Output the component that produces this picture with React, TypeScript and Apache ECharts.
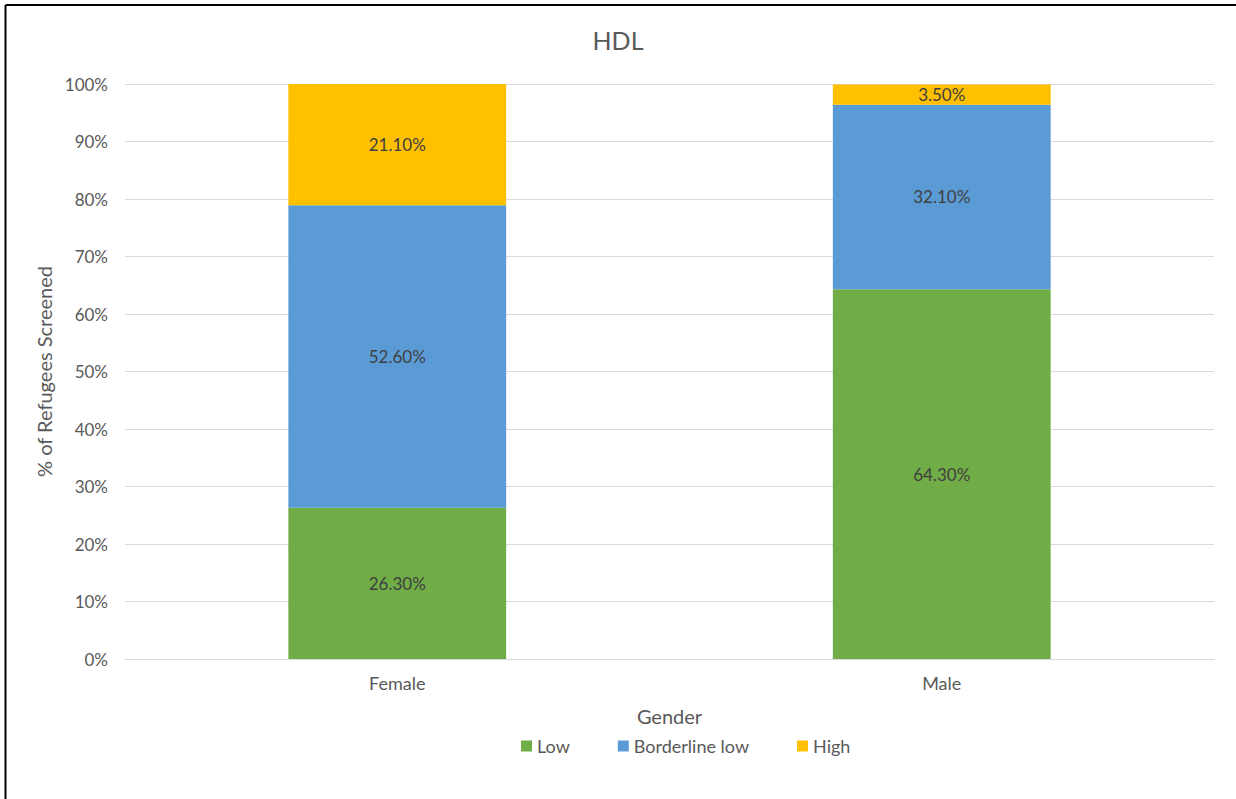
import React, { useEffect, useRef } from "react";
import * as echarts from "echarts";

const categories = ["Female", "Male"];
const lowValues = [26.3, 64.3];
const borderlineValues = [52.6, 32.1];
const highValues = [21.1, 3.5];
const seriesNames = ["Low", "Borderline low", "High"];
const colors = ["#70AD47", "#5B9BD5", "#FFC000"];

const FONT = "Lato, 'Open Sans', sans-serif";

export default function App() {
  const ref = useRef<HTMLDivElement>(null);
  useEffect(() => {
    if (!ref.current) return;
    const chart = echarts.init(ref.current, undefined, { renderer: "svg" });
    const dataSets = [lowValues, borderlineValues, highValues];
    chart.setOption({
      animation: false,
      backgroundColor: "#ffffff",
      textStyle: { fontFamily: FONT },
      title: {
        text: "HDL",
        left: "center",
        top: 22,
        textStyle: { fontFamily: FONT, fontSize: 25, fontWeight: "normal", color: "#595959" },
      },
      legend: {
        data: seriesNames,
        left: 516,
        top: 732,
        itemWidth: 11,
        itemHeight: 11,
        itemGap: 48,
        icon: "rect",
        textStyle: { fontFamily: FONT, fontSize: 18, color: "#595959" },
      },
      grid: { left: 125, right: 22, top: 84, bottom: 140, containLabel: false },
      xAxis: {
        type: "category",
        data: categories,
        name: "Gender",
        nameLocation: "middle",
        nameGap: 47,
        nameTextStyle: { fontFamily: FONT, fontSize: 20, color: "#595959" },
        axisLine: { show: true, lineStyle: { color: "#d9d9d9", width: 1 } },
        axisTick: { show: false },
        axisLabel: { margin: 15, fontFamily: FONT, fontSize: 18, color: "#595959" },
      },
      yAxis: {
        type: "value",
        min: 0,
        max: 100,
        interval: 10,
        name: "% of Refugees Screened",
        nameLocation: "middle",
        nameRotate: 90,
        nameGap: 69,
        nameTextStyle: { fontFamily: FONT, fontSize: 20, color: "#595959" },
        axisLine: { show: false },
        axisTick: { show: false },
        axisLabel: {
          margin: 17,
          fontFamily: FONT,
          fontSize: 17,
          color: "#595959",
          formatter: (v: number) => `${v}%`,
        },
        splitLine: { lineStyle: { color: "#d9d9d9", width: 1 } },
      },
      series: seriesNames.map((name, i) => ({
        name,
        type: "bar",
        stack: "total",
        barWidth: "40%",
        data: dataSets[i],
        itemStyle: { color: colors[i] },
        label: {
          show: true,
          position: "inside",
          fontFamily: FONT,
          fontSize: 17,
          color: "#404040",
          formatter: (p: any) => `${Number(p.value).toFixed(2)}%`,
        },
      })),
      graphic: [
        { type: "line", shape: { x1: 5.5, y1: 5, x2: 1236, y2: 5 }, style: { stroke: "#000", lineWidth: 2 } },
        { type: "line", shape: { x1: 5.5, y1: 5, x2: 5.5, y2: 799 }, style: { stroke: "#000", lineWidth: 2 } },
      ],
    });
    return () => chart.dispose();
  }, []);
  return (
    <div
      ref={ref}
      style={{ position: "fixed", left: 0, top: 0, width: 1236, height: 799, background: "#fff" }}
    />
  );
}
